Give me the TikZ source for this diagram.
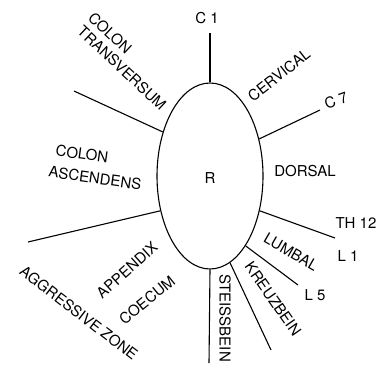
\documentclass[tikz,border=0pt]{standalone}
\usepackage{fontspec}
\setmainfont{TeX Gyre Heros}
\usetikzlibrary{shapes.geometric}
\begin{document}
\begin{tikzpicture}[x=1pt,y=-1pt,
  lbl/.style={font=\fontsize{15}{17}\selectfont, inner sep=0pt},
  seg/.style={line width=1.1pt}]
\useasboundingbox (0,0) rectangle (390,367);
\node[ellipse, draw, line width=1.1pt, minimum width=106pt, minimum height=186pt, inner sep=0pt] (R) at (210,176) {};
\node[lbl] (Rt) at (210,178) {R};
% free ends
\coordinate (c1e) at (210,33);
\coordinate (c7e) at (320,110);
\coordinate (th12e) at (335,238);
\coordinate (l5e) at (298,285);
\coordinate (kre) at (271,350);
\coordinate (ste) at (209,363);
\coordinate (ule) at (74,91);
\coordinate (lle) at (28,242);
\draw[seg] (R.90) -- (c1e);
\draw[seg] (R.37) -- (c7e);
\draw[seg] (R.-35) -- (th12e);
\draw[seg] (R.-63) -- (l5e);
\draw[seg] (R.-77) -- (kre);
\draw[seg] (R.-90) -- (ste);
\draw[seg] (R.137) -- (ule);
\draw[seg] (R.215) -- (lle);
% labels
\node[lbl] (c1) at (207,18) {C 1};
\node[lbl, rotate=38] (cerv) at (279,75) {CERVICAL};
\node[lbl, rotate=20] (c7) at (336,100) {C 7};
\node[lbl] (dors) at (305,171) {DORSAL};
\node[lbl] (th12) at (356,223) {TH 12};
\node[lbl] (l1) at (348,256) {L 1};
\node[lbl, rotate=-30] (lumb) at (291,252) {LUMBAL};
\node[lbl] (l5) at (315,295) {L 5};
\node[lbl, rotate=-55] (kreuz) at (273,299) {KREUZBEIN};
\node[lbl, rotate=-90] (steiss) at (225,318) {STEISSBEIN};
\node[lbl, rotate=-43] (col1) at (110,33) {COLON};
\node[lbl, rotate=-43] (trans) at (122,68) {TRANSVERSUM};
\node[lbl, rotate=-8] (col2) at (82,154) {COLON};
\node[lbl, rotate=-8] (asc) at (95,178) {ASCENDENS};
\node[lbl, rotate=42] (app) at (127,270) {APPENDIX};
\node[lbl, rotate=39] (coec) at (147,300) {COECUM};
\node[lbl, rotate=-37.5] (aggr) at (79,313) {AGGRESSIVE ZONE};
\end{tikzpicture}
\end{document}
